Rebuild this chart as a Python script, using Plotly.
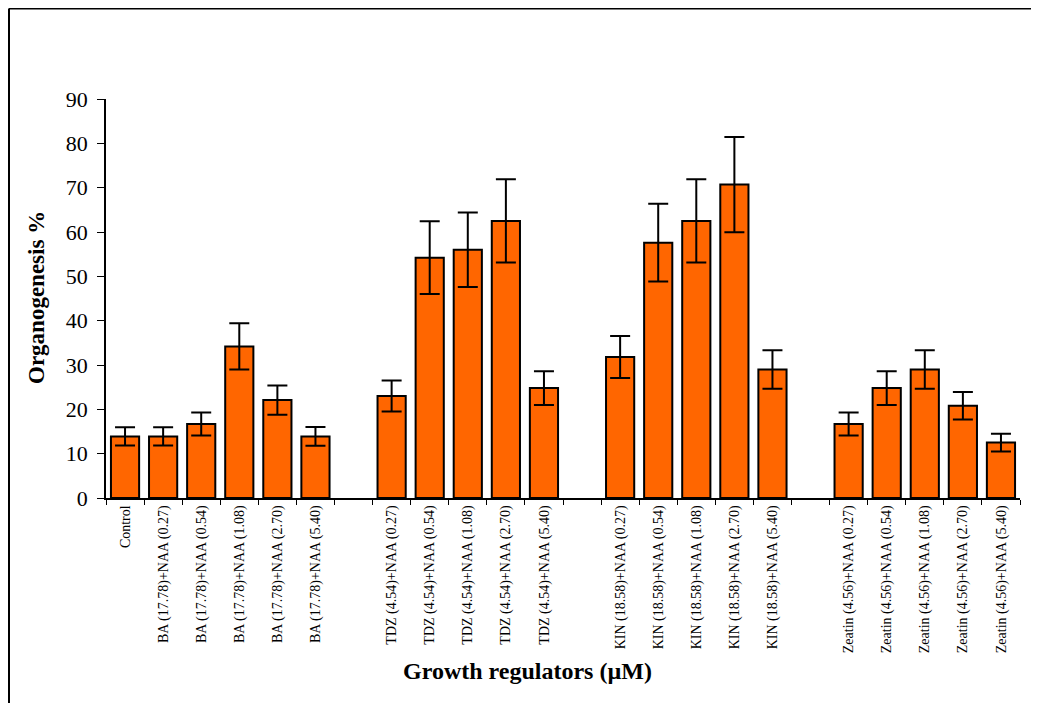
import plotly.graph_objects as go

categories = [
    "Control",
    "BA (17.78)+NAA (0.27)", "BA (17.78)+NAA (0.54)", "BA (17.78)+NAA (1.08)",
    "BA (17.78)+NAA (2.70)", "BA (17.78)+NAA (5.40)",
    " ",
    "TDZ (4.54)+NAA (0.27)", "TDZ (4.54)+NAA (0.54)", "TDZ (4.54)+NAA (1.08)",
    "TDZ (4.54)+NAA (2.70)", "TDZ (4.54)+NAA (5.40)",
    "  ",
    "KIN (18.58)+NAA (0.27)", "KIN (18.58)+NAA (0.54)", "KIN (18.58)+NAA (1.08)",
    "KIN (18.58)+NAA (2.70)", "KIN (18.58)+NAA (5.40)",
    "   ",
    "Zeatin (4.56)+NAA (0.27)", "Zeatin (4.56)+NAA (0.54)", "Zeatin (4.56)+NAA (1.08)",
    "Zeatin (4.56)+NAA (2.70)", "Zeatin (4.56)+NAA (5.40)",
]

organogenesis = [
    13.9,
    13.9, 16.7, 34.2, 22.1, 13.9,
    None,
    23.0, 54.2, 56.0, 62.5, 24.8,
    None,
    31.8, 57.6, 62.5, 70.7, 29.0,
    None,
    16.7, 24.8, 29.0, 20.8, 12.5,
]

errors = [
    2.05,
    2.05, 2.6, 5.2, 3.3, 2.1,
    None,
    3.5, 8.2, 8.4, 9.4, 3.8,
    None,
    4.75, 8.75, 9.4, 10.75, 4.35,
    None,
    2.6, 3.8, 4.35, 3.1, 2.0,
]

y_ticks = [0, 10, 20, 30, 40, 50, 60, 70, 80, 90]

serif = "Liberation Serif, Times New Roman, serif"

fig = go.Figure()
fig.add_trace(go.Bar(
    x=categories,
    y=organogenesis,
    marker=dict(color="#FF6600", line=dict(color="black", width=2)),
    error_y=dict(type="data", array=errors, visible=True,
                 color="black", thickness=2, width=10),
    showlegend=False,
))

# page is offset by the 8px body margin; figure coords = reference coords - 8
OFF = 8
FW, FH = 1023, 695
L, R, T, B = 106 - OFF, 1020 - OFF, 99.3 - OFF, 497.7 - OFF
W, H = R - L, B - T

def px(xp):
    return (xp - OFF - L) / W

def py(yp):
    return (B - (yp - OFF)) / H

frame = dict(color="black", width=2)

fig.update_layout(
    width=FW, height=FH,
    margin=dict(l=L, r=FW - R, t=T, b=FH - B, autoexpand=False),
    paper_bgcolor="white", plot_bgcolor="white",
    bargap=0.26,
    font=dict(family=serif, color="black"),
    xaxis=dict(
        type="category",
        categoryorder="array", categoryarray=categories,
        tickson="boundaries",
        ticks="outside", ticklen=5, tickwidth=1, tickcolor="black",
        tickangle=-90,
        tickfont=dict(family=serif, size=14, color="black"),
        showline=True, linecolor="black", linewidth=1.5,
        showgrid=False, zeroline=False,
        automargin=False,
    ),
    yaxis=dict(
        range=[0, 90],
        tickvals=y_ticks,
        ticks="outside", ticklen=7, tickwidth=1, tickcolor="black",
        ticklabelstandoff=5,
        tickfont=dict(family=serif, size=22, color="black"),
        showline=True, linecolor="black", linewidth=1.5,
        showgrid=False, zeroline=False,
        automargin=False,
    ),
    shapes=[
        dict(type="line", xref="paper", yref="paper",
             x0=px(9), x1=px(9), y0=py(760), y1=py(9), line=frame, layer="below"),
        dict(type="line", xref="paper", yref="paper",
             x0=px(9), x1=px(1070), y0=py(9), y1=py(9), line=frame, layer="below"),
    ],
    annotations=[
        dict(text="<b>Growth regulators (µM)</b>", xref="paper", yref="paper",
             x=px(527), y=py(670), xanchor="center", yanchor="middle",
             showarrow=False, font=dict(family=serif, size=24, color="black")),
        dict(text="<b>Organogenesis %</b>", xref="paper", yref="paper",
             x=px(37), y=py(298), xanchor="center", yanchor="middle",
             textangle=-90, showarrow=False,
             font=dict(family=serif, size=23, color="black")),
    ],
)

fig.write_html("out.html")
